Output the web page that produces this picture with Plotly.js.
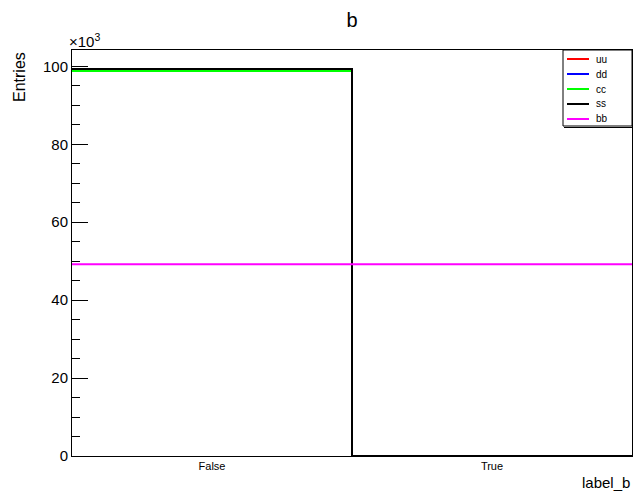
<!DOCTYPE html>
<html>
<head>
<meta charset="utf-8">
<script src="https://cdn.plot.ly/plotly-3.0.1.min.js"></script>
<style>html,body{margin:0;padding:0;background:#fff;}#chart{width:633px;height:492px;}</style>
</head>
<body>
<div id="chart"></div>
<script>
// Data
const categories = ['False', 'True'];
const binEdges = [0, 1, 2];
const seriesNames = ['uu', 'dd', 'cc', 'ss', 'bb'];
const seriesColors = ['#ff0000', '#0000ff', '#00ff00', '#000000', '#ff00ff'];
const uu = [99300, 0];
const dd = [99300, 0];
const cc = [98800, 0];
const ss = [99300, 0];
const bb = [49200, 49200];
const yTickVals = [0, 20000, 40000, 60000, 80000, 100000];
const yTickText = ['0', '20', '40', '60', '80', '100'];

const seriesValues = [uu, dd, cc, ss, bb];
const traces = seriesNames.map((name, i) => {
  const v = seriesValues[i];
  return {
    type: 'scatter', mode: 'lines', name: name,
    x: binEdges,
    y: [v[0], v[1], v[1]],
    line: {shape: 'hv', color: seriesColors[i], width: 2},
    hoverinfo: 'skip'
  };
});

const font = 'Liberation Sans, Arial, Helvetica, sans-serif';

// Plot area in pixels (for the legend box placement)
const L = 72, T = 50, W = 560, H = 406;
const px = x => (x - L) / W;
const py = y => (T + H - y) / H;

const shapes = [
  {type: 'rect', xref: 'paper', yref: 'paper', x0: px(563), x1: px(632), y0: py(126), y1: py(50),
   line: {color: '#000', width: 1}, fillcolor: '#ffffff', layer: 'above'},
  {type: 'line', xref: 'paper', yref: 'paper', x0: px(564), x1: px(632), y0: py(127.5), y1: py(127.5),
   line: {color: '#000', width: 1}, layer: 'above'}
];
const annotations = [
  {text: '×10<sup>3</sup>', xref: 'paper', yref: 'paper', x: 0, y: 1, xanchor: 'center', yanchor: 'bottom', xshift: 12, yshift: -2, showarrow: false, font: {family: font, size: 15, color: '#000'}},
  {text: 'Entries', xref: 'paper', yref: 'paper', x: 0, y: 1, xanchor: 'center', yanchor: 'top', xshift: -53, yshift: 0, textangle: -90, showarrow: false, font: {family: font, size: 16, color: '#000'}},
  {text: 'label_b', xref: 'paper', yref: 'paper', x: 1, y: 0, xanchor: 'right', yanchor: 'middle', yshift: -26, showarrow: false, font: {family: font, size: 15, color: '#000'}}
];
seriesNames.forEach((name, i) => {
  const yy = 59 + 15 * i;
  shapes.push({type: 'line', xref: 'paper', yref: 'paper', x0: px(567), x1: px(589), y0: py(yy), y1: py(yy),
    line: {color: seriesColors[i], width: 2}, layer: 'above'});
  annotations.push({text: name, xref: 'paper', yref: 'paper', x: px(594), y: py(yy), xanchor: 'left', yanchor: 'middle',
    showarrow: false, font: {family: font, size: 10, color: '#000'}});
});

const layout = {
  width: 633, height: 492,
  margin: {l: L, r: 633 - L - W, t: T, b: 492 - T - H, pad: 0},
  paper_bgcolor: '#ffffff', plot_bgcolor: '#ffffff',
  font: {family: font, color: '#000000'},
  title: {text: 'b', font: {family: font, size: 20, color: '#000'}, x: 0.556, xanchor: 'center', y: 0.96, yanchor: 'middle'},
  showlegend: false,
  xaxis: {
    range: [0, 2], showgrid: false, zeroline: false,
    showline: true, mirror: true, linecolor: '#000', linewidth: 1,
    tickmode: 'array', tickvals: [0.5, 1.5], ticktext: categories,
    ticks: '', tickfont: {family: font, size: 11, color: '#000'}
  },
  yaxis: {
    range: [0, 104200], showgrid: false, zeroline: false,
    showline: true, mirror: true, linecolor: '#000', linewidth: 1,
    tickmode: 'array', tickvals: yTickVals, ticktext: yTickText,
    ticks: 'inside', ticklen: 16, tickcolor: '#000', tickwidth: 1,
    tickfont: {family: font, size: 15, color: '#000'},
    minor: {dtick: 5000, ticks: 'inside', ticklen: 8, tickcolor: '#000', tickwidth: 1}
  },
  shapes: shapes,
  annotations: annotations
};

Plotly.newPlot('chart', traces, layout, {displayModeBar: false, staticPlot: true});
</script>
</body>
</html>
